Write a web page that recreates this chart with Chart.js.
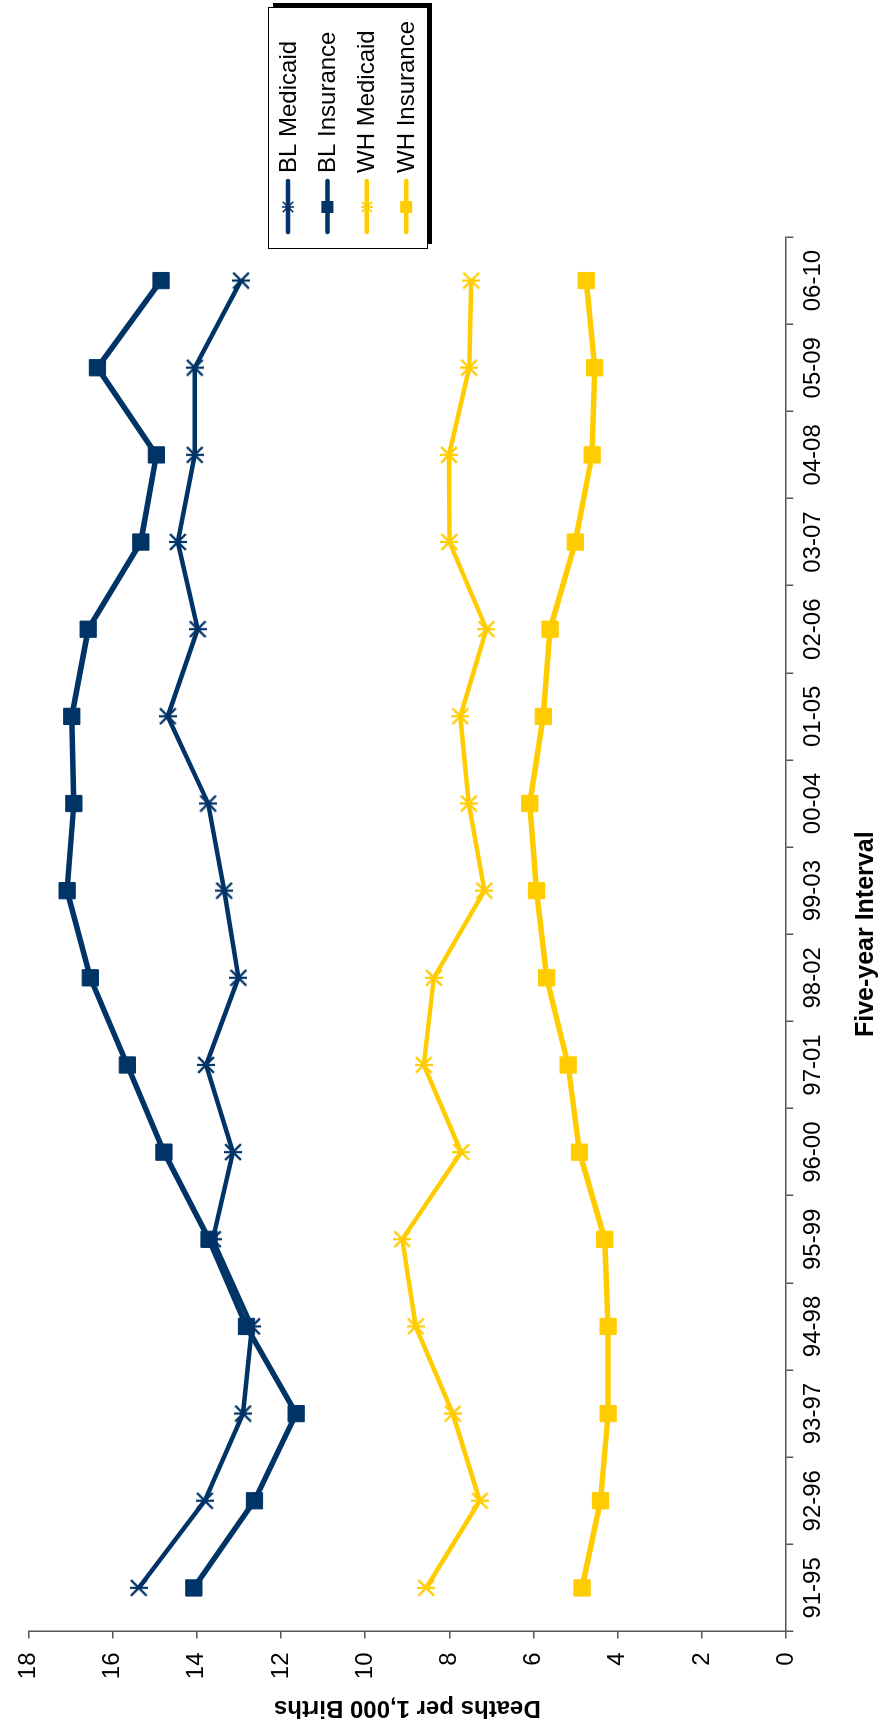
<!DOCTYPE html>
<html>
<head>
<meta charset="utf-8">
<title>Deaths per 1,000 Births</title>
<script src="https://cdn.jsdelivr.net/npm/chart.js@4.4.1/dist/chart.umd.min.js"></script>
<style>
    html, body { margin: 0; padding: 0; background: #fff; overflow: hidden; }
    /* the chart is drawn upright and then turned a quarter to the left */
    #wrap {
        position: absolute; left: 0; top: 0;
        width: 1726px; height: 886px;
        transform-origin: 0 0;
        transform: translate(0, 1726px) rotate(-90deg);
    }
</style>
</head>
<body>
<div id="wrap"><canvas id="chart" width="1726" height="886"></canvas></div>
<script>
const intervals = ['91-95', '92-96', '93-97', '94-98', '95-99', '96-00', '97-01', '98-02',
    '99-03', '00-04', '01-05', '02-06', '03-07', '04-08', '05-09', '06-10'];

const blMedicaid  = [15.38, 13.81, 12.90, 12.69, 13.62, 13.14, 13.78, 13.01, 13.35, 13.73, 14.69, 13.98, 14.45, 14.05, 14.05, 12.95];
const blInsurance = [14.07, 12.63, 11.64, 12.82, 13.71, 14.78, 15.65, 16.53, 17.08, 16.92, 16.97, 16.58, 15.33, 14.96, 16.36, 14.85];
const whMedicaid  = [8.55, 7.28, 7.92, 8.80, 9.12, 7.72, 8.61, 8.37, 7.17, 7.54, 7.74, 7.12, 8.00, 8.01, 7.53, 7.48];
const whInsurance = [4.85, 4.41, 4.23, 4.23, 4.31, 4.91, 5.18, 5.69, 5.93, 6.09, 5.77, 5.61, 5.01, 4.61, 4.55, 4.75];

const yTicks = [0, 2, 4, 6, 8, 10, 12, 14, 16, 18];

const NAVY = '#003366';
const GOLD = '#FFCC00';
const AXIS = '#555555';
const FONT = "'Liberation Sans', Arial, sans-serif";

// Excel style asterisk: an X with an upright bar
function makeStar(color, size, lw) {
    const c = document.createElement('canvas');
    c.width = size;
    c.height = size;
    const g = c.getContext('2d');
    g.strokeStyle = color;
    g.lineWidth = lw;
    const m = lw / 2;
    g.beginPath();
    g.moveTo(m, m); g.lineTo(size - m, size - m);
    g.moveTo(size - m, m); g.lineTo(m, size - m);
    g.moveTo(size / 2, 0); g.lineTo(size / 2, size);
    g.stroke();
    return c;
}

const starNavy = makeStar(NAVY, 18, 2.2);
const starGold = makeStar(GOLD, 18, 2.2);
const starNavySmall = makeStar(NAVY, 12, 1.6);
const starGoldSmall = makeStar(GOLD, 12, 1.6);

function series(label, data, color, lineWidth, star) {
    return {
        label,
        data,
        borderColor: color,
        backgroundColor: color,
        borderWidth: lineWidth,
        pointStyle: star || 'rect',
        pointRadius: star ? 9 : 11.5,
        pointBorderWidth: 1,
        pointBorderColor: color,
        pointBackgroundColor: color,
        tension: 0,
        fill: false,
        legendStar: star ? (color === NAVY ? starNavySmall : starGoldSmall) : null
    };
}

// boxed legend with a drop shadow, drawn over the right end of the plot
const legendBox = {
    id: 'legendBox',
    afterDraw(chart) {
        const ctx = chart.ctx;
        const x = 1477, y = 268, w = 241, h = 159;
        ctx.save();
        ctx.fillStyle = '#000';
        ctx.fillRect(x + 5, y + 5, w, h);
        ctx.fillStyle = '#fff';
        ctx.fillRect(x, y, w, h);
        ctx.strokeStyle = '#000';
        ctx.lineWidth = 1;
        ctx.strokeRect(x + 0.5, y + 0.5, w, h);

        chart.data.datasets.forEach((ds, i) => {
            const cy = 288 + i * 39.4;
            ctx.strokeStyle = ds.borderColor;
            ctx.lineWidth = 4.5;
            ctx.lineCap = 'round';
            ctx.beginPath();
            ctx.moveTo(1494, cy);
            ctx.lineTo(1545, cy);
            ctx.stroke();
            if (ds.legendStar) {
                ctx.drawImage(ds.legendStar, 1519 - 6, cy - 6);
            } else {
                ctx.fillStyle = ds.borderColor;
                ctx.fillRect(1519 - 6, cy - 6, 12, 12);
            }
            ctx.fillStyle = '#000';
            ctx.font = '24px ' + FONT;
            ctx.textBaseline = 'middle';
            ctx.textAlign = 'left';
            ctx.fillText(ds.label, 1553, cy + 1);
        });
        ctx.restore();
    }
};

const whiteBg = {
    id: 'whiteBg',
    beforeDraw(chart) {
        const ctx = chart.ctx;
        ctx.save();
        ctx.fillStyle = '#fff';
        ctx.fillRect(0, 0, chart.width, chart.height);
        ctx.restore();
    }
};

Chart.defaults.font.family = FONT;
Chart.defaults.color = '#000';

new Chart(document.getElementById('chart').getContext('2d'), {
    type: 'line',
    data: {
        labels: intervals,
        datasets: [
            series('BL Medicaid', blMedicaid, NAVY, 4.5, starNavy),
            series('BL Insurance', blInsurance, NAVY, 5.5, null),
            series('WH Medicaid', whMedicaid, GOLD, 4.5, starGold),
            series('WH Insurance', whInsurance, GOLD, 5.5, null)
        ]
    },
    options: {
        responsive: false,
        animation: false,
        events: [],
        layout: { padding: { top: 23, right: 237, bottom: 0, left: 0 } },
        plugins: {
            legend: { display: false },
            tooltip: { enabled: false }
        },
        scales: {
            x: {
                type: 'category',
                offset: true,
                grid: { offset: true, drawOnChartArea: false, drawTicks: true, tickLength: 7, color: AXIS, lineWidth: 1.5 },
                border: { display: true, color: AXIS, width: 1.5 },
                ticks: { font: { size: 24 }, color: '#000', padding: 6, maxRotation: 0, minRotation: 0, autoSkip: false },
                title: {
                    display: true,
                    text: 'Five-year Interval',
                    font: { size: 25, weight: 'bold' },
                    color: '#000',
                    padding: { top: 17, bottom: 5 }
                }
            },
            y: {
                min: yTicks[0],
                max: yTicks[yTicks.length - 1],
                afterBuildTicks: (scale) => { scale.ticks = yTicks.map(v => ({ value: v })); },
                grid: { drawOnChartArea: false, drawTicks: true, tickLength: 7, color: AXIS, lineWidth: 1.5 },
                border: { display: true, color: AXIS, width: 1.5 },
                ticks: { font: { size: 24 }, color: '#000', padding: 14 },
                title: {
                    display: true,
                    text: 'Deaths per 1,000 Births',
                    font: { size: 24, weight: 'bold' },
                    color: '#000',
                    padding: { top: 4, bottom: 0 }
                }
            }
        }
    },
    plugins: [whiteBg, legendBox]
});
</script>
</body>
</html>
